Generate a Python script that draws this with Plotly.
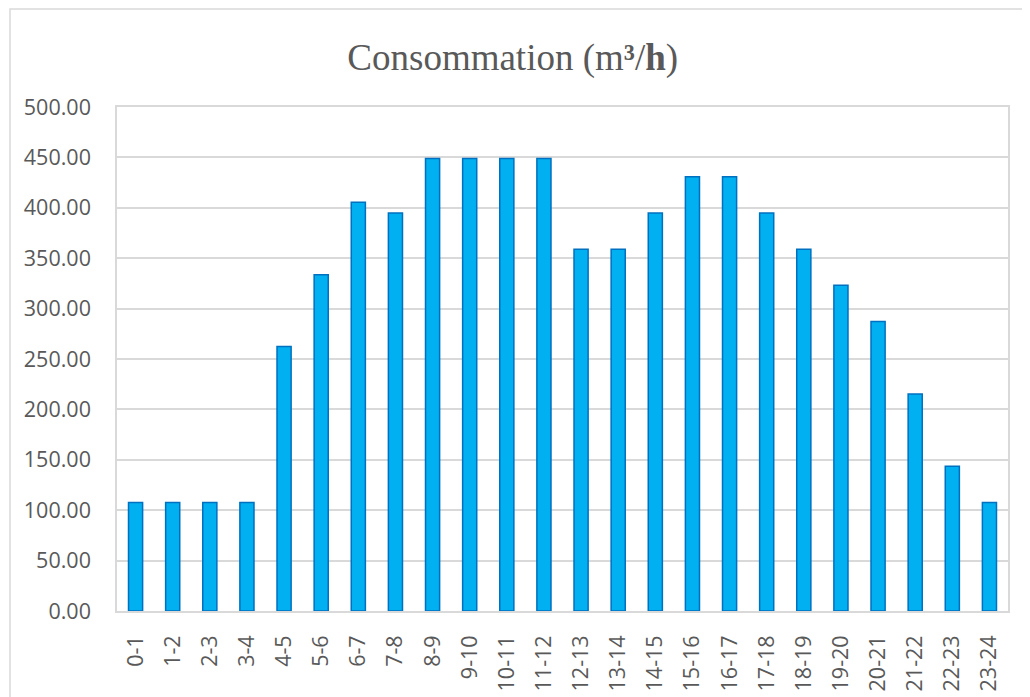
import plotly.graph_objects as go

categories = ["0-1", "1-2", "2-3", "3-4", "4-5", "5-6", "6-7", "7-8", "8-9", "9-10",
              "10-11", "11-12", "12-13", "13-14", "14-15", "15-16", "16-17", "17-18",
              "18-19", "19-20", "20-21", "21-22", "22-23", "23-24"]
consommation = [107.7, 107.7, 107.7, 107.7, 262.4, 333.6, 405.5, 394.9, 448.8, 448.8,
                448.8, 448.8, 359.0, 359.0, 394.9, 430.8, 430.8, 394.9,
                359.0, 323.1, 287.2, 215.4, 143.6, 107.7]
y_ticks = [0, 50, 100, 150, 200, 250, 300, 350, 400, 450, 500]
y_tick_labels = [f"{v:.2f}" for v in y_ticks]

W, H = 1030, 697
OFF = 8  # page body margin
L, R, T, B = 117 - OFF, 22 + OFF, 107 - OFF, 86 + OFF
pw, ph = W - L - R, H - T - B

fig = go.Figure(go.Bar(
    x=categories, y=consommation,
    marker=dict(color="#00B0F0", line=dict(color="#0070C0", width=1.5)),
))

grid = "#D9D9D9"
tick_font = dict(family="Open Sans", size=21.5, color="#595959")

fig.update_layout(
    width=W, height=H,
    margin=dict(l=L, r=R, t=T, b=B),
    paper_bgcolor="white", plot_bgcolor="white",
    bargap=0.62,
    showlegend=False,
    title=dict(text="Consommation (m<b>³</b>/<b>h</b>)", x=0.49, xanchor="center",
               y=1 - 49 / H, yanchor="middle",
               font=dict(family="Liberation Serif", size=37, color="#595959")),
    xaxis=dict(type="category", tickangle=-90, tickfont=tick_font, automargin=False,
               showgrid=False, showline=True, linecolor=grid, linewidth=1.5,
               mirror=True, ticks="", ticklabelstandoff=14),
    yaxis=dict(range=[0, 500], tickvals=y_ticks, ticktext=y_tick_labels, automargin=False,
               tickfont=tick_font, showgrid=True, gridcolor=grid, gridwidth=1.5,
               showline=True, linecolor=grid, linewidth=1.5, mirror=True,
               zeroline=False, ticks="", ticklabelstandoff=20),
)

# outer chart border (figure coords: x=2, y=1)
fig.add_shape(type="rect", xref="paper", yref="paper",
              x0=(2 - L) / pw, x1=(W + 20 - L) / pw,
              y0=-(H + 20 - T - ph) / ph, y1=(H - 1 - B) / ph,
              line=dict(color=grid, width=1.5), fillcolor="rgba(0,0,0,0)", layer="below")

fig.write_html("out.html")
